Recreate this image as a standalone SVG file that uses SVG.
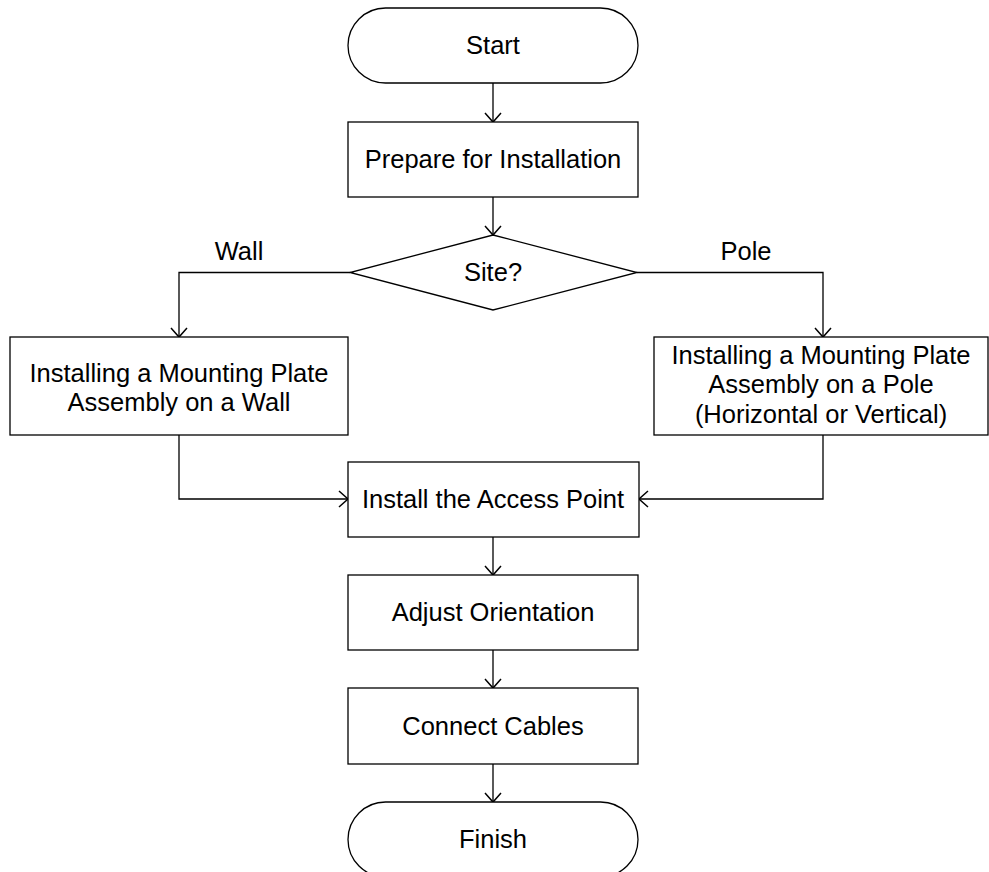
<svg xmlns="http://www.w3.org/2000/svg" width="989" height="872" viewBox="0 0 989 872">
<style>
.box{fill:#fff;stroke:#000;stroke-width:1.3}
.t{font-family:"Liberation Sans",Arial,sans-serif;font-size:25.5px;fill:#000;text-anchor:middle}
.c{fill:none;stroke:#000;stroke-width:1.3;marker-end:url(#arr)}
</style>
<defs>
<marker id="arr" markerUnits="userSpaceOnUse" markerWidth="24" markerHeight="24" viewBox="-12 -12 24 24" refX="0" refY="0" orient="auto">
<path d="M-9,-8 L0,0 L-9,8" fill="none" stroke="#000" stroke-width="1.5"/>
</marker>
</defs>
<rect width="989" height="872" fill="#fff"/>
<g id="connectors">
<path class="c" d="M493,83 V122"/>
<path class="c" d="M493,197 V235"/>
<path class="c" d="M350,272.5 H179 V337"/>
<path class="c" d="M637,272.5 H823 V337"/>
<path class="c" d="M179,435 V499 H348"/>
<path class="c" d="M823,435 V499 H639"/>
<path class="c" d="M493,537 V575"/>
<path class="c" d="M493,650 V688"/>
<path class="c" d="M493,764 V802"/>
<text class="t" x="239" y="260">Wall</text>
<text class="t" x="746" y="260">Pole</text>
</g>
<g id="start">
<rect class="box" x="348" y="8" width="290" height="75" rx="37.5" ry="37.5"/>
<text class="t" x="493" y="54">Start</text>
</g>
<g id="prepare">
<rect class="box" x="348" y="122" width="290" height="75"/>
<text class="t" x="493" y="168">Prepare for Installation</text>
</g>
<g id="site">
<polygon class="box" points="493,235 637,272.5 493,310 350,272.5"/>
<text class="t" x="493" y="281">Site?</text>
</g>
<g id="wall">
<rect class="box" x="10" y="337" width="338" height="98"/>
<text class="t" x="179" y="381.5">Installing a Mounting Plate<tspan x="179" dy="29.5">Assembly on a Wall</tspan></text>
</g>
<g id="pole">
<rect class="box" x="654" y="337" width="334" height="98"/>
<text class="t" x="821" y="363.5">Installing a Mounting Plate<tspan x="821" dy="29.5">Assembly on a Pole</tspan><tspan x="821" dy="29.5">(Horizontal or Vertical)</tspan></text>
</g>
<g id="install">
<rect class="box" x="348" y="462" width="291" height="75"/>
<text class="t" x="493" y="508">Install the Access Point</text>
</g>
<g id="adjust">
<rect class="box" x="348" y="575" width="290" height="75"/>
<text class="t" x="493" y="621">Adjust Orientation</text>
</g>
<g id="connect">
<rect class="box" x="348" y="688" width="290" height="76"/>
<text class="t" x="493" y="735">Connect Cables</text>
</g>
<g id="finish">
<rect class="box" x="348" y="802" width="290" height="75" rx="37.5" ry="37.5"/>
<text class="t" x="493" y="848">Finish</text>
</g>
</svg>
